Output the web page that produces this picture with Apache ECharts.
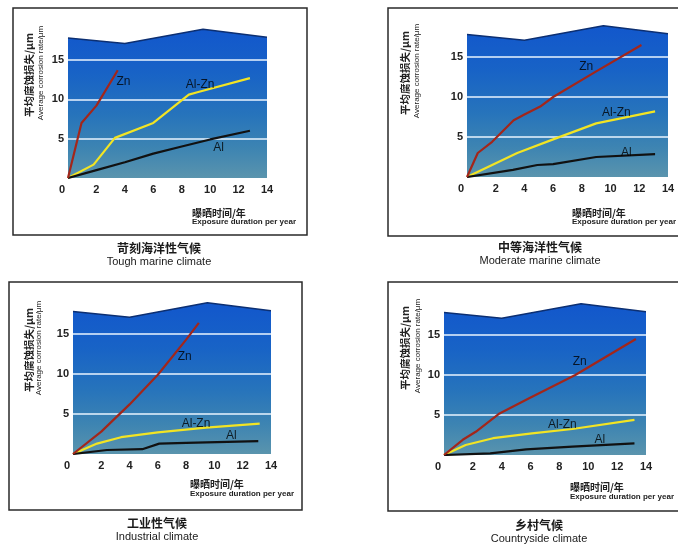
<!DOCTYPE html>
<html>
<head>
<meta charset="utf-8">
<script src="https://cdn.jsdelivr.net/npm/echarts@6/dist/echarts.min.js"></script>
<style>
html,body{margin:0;padding:0;background:#fff;}
#c{width:678px;height:548px;}
</style>
</head>
<body>
<div id="c"></div>
<script>
// ---- data ----
const xTicks = [0, 2, 4, 6, 8, 10, 12, 14];
const yTicks = [5, 10, 15];
const bgTop = [[0, 17.8], [4, 17.1], [9.5, 18.9], [14, 17.9]];

const titlesCN = ['苛刻海洋性气候', '中等海洋性气候', '工业性气候', '乡村气候'];
const titlesEN = ['Tough marine climate', 'Moderate marine climate', 'Industrial climate', 'Countryside climate'];
const yNameCN = '平均腐蚀损失/μm';
const yNameEN = 'Average corrosion rate/μm';
const xNameCN = '曝晒时间/年';
const xNameEN = 'Exposure duration per year';
const seriesNames = ['Zn', 'Al-Zn', 'Al'];

const toughZn   = [[0,0],[0.95,7.0],[2,9.2],[3.5,13.7]];
const toughAlZn = [[0,0],[1.8,1.7],[3.3,5.1],[6,7.0],[8.5,10.6],[9.1,10.9],[12.8,12.7]];
const toughAl   = [[0,0],[2,1.0],[4,2.0],[6,3.1],[8,4.0],[10,4.9],[12.8,6.0]];
const toughLbl  = [[3.9,12.3],[9.3,11.8],[10.6,3.8]];

const modZn   = [[0,0],[0.75,3.0],[1.75,4.4],[3.25,7.1],[4,7.8],[5.1,8.8],[6,10.0],[9,13.2],[12.15,16.5]];
const modAlZn = [[0,0],[3.5,3.0],[6,4.7],[9,6.7],[13.1,8.2]];
const modAl   = [[0,0],[3.2,0.9],[4.9,1.5],[6,1.6],[9,2.5],[13.1,2.85]];
const modLbl  = [[8.3,13.8],[10.4,8.0],[11.1,3.1]];

const indZn   = [[0,0],[2,2.8],[4,6.2],[6,9.9],[8,14.3],[8.9,16.4]];
const indAlZn = [[0,0],[1.7,1.3],[3.4,2.1],[6,2.7],[9.4,3.3],[13.2,3.8]];
const indAl   = [[0,0],[2.4,0.5],[4.9,0.6],[6.1,1.3],[8,1.4],[13.1,1.6]];
const indLbl  = [[7.9,12.2],[8.7,3.8],[11.2,2.25]];

const cntZn   = [[0,0],[1.3,1.9],[2.2,2.9],[3.85,5.2],[5.9,7.1],[8,9.0],[9.1,10.0],[13.3,14.5]];
const cntAlZn = [[0,0],[1.5,1.25],[3.4,2.1],[6.1,2.7],[8.9,3.25],[13.2,4.4]];
const cntAl   = [[0,0],[3.2,0.2],[5.7,0.7],[8.9,1.05],[13.2,1.45]];
const cntLbl  = [[9.4,11.7],[8.2,3.75],[10.8,1.9]];

const panelData = [
  [toughZn, toughAlZn, toughAl, toughLbl],
  [modZn, modAlZn, modAl, modLbl],
  [indZn, indAlZn, indAl, indLbl],
  [cntZn, cntAlZn, cntAl, cntLbl]
];

// ---- layout (px) ----
const layout = [
  {left: 68,  top: 28.5, width: 199, height: 149.5, box: [13, 8, 294, 227],  yn: [29, 41, 75],  xn: [192, 213, 222], t: [159, 248, 262]},
  {left: 467, top: 25,   width: 201, height: 152,   box: [388, 8, 320, 228], yn: [405, 417, 73], xn: [572, 213, 222], t: [540, 247, 261]},
  {left: 73,  top: 302,  width: 198, height: 152,   box: [9, 282, 293, 228], yn: [29, 39, 350], xn: [190, 484, 494], t: [157, 523, 537]},
  {left: 444, top: 303,  width: 202, height: 152,   box: [388, 282, 320, 229], yn: [405, 418, 348], xn: [570, 487, 497], t: [539, 525, 539]}
];

const latin = '"Liberation Sans", Arial, "Noto Sans CJK SC", sans-serif';
const cjk = '"Noto Sans CJK SC", "Liberation Sans", sans-serif';
const lineColors = ['#a3261a', '#f2e424', '#111111'];

const grids = [], xAxes = [], yAxes = [], series = [], graphics = [];

layout.forEach((L, i) => {
  grids.push({left: L.left, top: L.top, width: L.width, height: L.height, containLabel: false});
  xAxes.push({
    type: 'value', gridIndex: i, min: 0, max: 14, interval: 2,
    axisLine: {show: false}, axisTick: {show: false}, splitLine: {show: false},
    axisLabel: {
      margin: 6, fontSize: 11, fontWeight: 'bold', color: '#222', fontFamily: latin,
      formatter: v => v === 0 ? '{z|0}' : String(v),
      rich: {z: {fontSize: 11, fontWeight: 'bold', color: '#222', fontFamily: latin, padding: [0, 12, 0, 0]}}
    }
  });
  yAxes.push({
    type: 'value', gridIndex: i, min: 0, max: 19, interval: 5,
    axisLine: {show: false}, axisTick: {show: false}, splitLine: {show: false},
    axisLabel: {
      margin: 4, fontSize: 11, fontWeight: 'bold', color: '#222', fontFamily: latin,
      formatter: v => (yTicks.indexOf(v) >= 0 ? String(v) : '')
    }
  });
  // background panel
  series.push({
    type: 'line', xAxisIndex: i, yAxisIndex: i, data: bgTop, symbol: 'none', silent: true, z: 1,
    lineStyle: {color: '#0c2f72', width: 1.5},
    areaStyle: {
      opacity: 1,
      color: {type: 'linear', x: 0, y: 0, x2: 0, y2: 1, colorStops: [
        {offset: 0, color: '#1257cc'},
        {offset: 0.3, color: '#1863c6'},
        {offset: 0.58, color: '#2774bb'},
        {offset: 0.8, color: '#3d84b2'},
        {offset: 1, color: '#5a94ad'}
      ]}
    },
    markLine: {
      silent: true, symbol: 'none', label: {show: false},
      lineStyle: {color: '#eaf4ff', width: 1.5, type: 'solid'},
      data: yTicks.map(v => ({yAxis: v}))
    }
  });
  const d = panelData[i];
  for (let k = 0; k < 3; k++) {
    series.push({
      type: 'line', name: seriesNames[k], xAxisIndex: i, yAxisIndex: i, data: d[k],
      symbol: 'none', z: k === 0 ? 6 : 5,
      lineStyle: {color: lineColors[k], width: 2.2}
    });
  }
  series.push({
    type: 'scatter', xAxisIndex: i, yAxisIndex: i, symbolSize: 2, z: 8, silent: true,
    itemStyle: {color: 'rgba(0,0,0,0)'},
    data: d[3].map((p, k) => ({value: p, name: seriesNames[k]})),
    label: {show: true, position: 'inside', formatter: '{b}', fontSize: 12, color: '#000', fontFamily: latin}
  });

  // panel box
  graphics.push({type: 'rect', shape: {x: L.box[0], y: L.box[1], width: L.box[2], height: L.box[3]},
    style: {fill: 'none', stroke: '#2a2a2a', lineWidth: 1.5}, z: -1});
  // y axis name (rotated)
  graphics.push({type: 'text', x: L.yn[0], y: L.yn[2], rotation: Math.PI / 2,
    style: {text: yNameCN, x: 0, y: 0, font: 'bold 10.5px ' + cjk, fill: '#222',
      align: 'center', verticalAlign: 'middle', textAlign: 'center', textVerticalAlign: 'middle'}});
  graphics.push({type: 'text', x: L.yn[1], y: L.yn[2] - 2, rotation: Math.PI / 2,
    style: {text: yNameEN, x: 0, y: 0, font: '8px ' + latin, fill: '#222',
      align: 'center', verticalAlign: 'middle', textAlign: 'center', textVerticalAlign: 'middle'}});
  // x axis name
  graphics.push({type: 'text',
    style: {text: xNameCN, x: L.xn[0], y: L.xn[1], font: 'bold 10px ' + cjk, fill: '#222',
      align: 'left', verticalAlign: 'middle', textAlign: 'left', textVerticalAlign: 'middle'}});
  graphics.push({type: 'text',
    style: {text: xNameEN, x: L.xn[0], y: L.xn[2], font: 'bold 8px ' + latin, fill: '#222',
      align: 'left', verticalAlign: 'middle', textAlign: 'left', textVerticalAlign: 'middle'}});
  // titles
  graphics.push({type: 'text',
    style: {text: titlesCN[i], x: L.t[0], y: L.t[1], font: 'bold 12px ' + cjk, fill: '#1a1a1a',
      align: 'center', verticalAlign: 'middle', textAlign: 'center', textVerticalAlign: 'middle'}});
  graphics.push({type: 'text',
    style: {text: titlesEN[i], x: L.t[0], y: L.t[2], font: '11px ' + latin, fill: '#1a1a1a',
      align: 'center', verticalAlign: 'middle', textAlign: 'center', textVerticalAlign: 'middle'}});
});

const chart = echarts.init(document.getElementById('c'), null, {renderer: 'canvas'});
chart.setOption({
  backgroundColor: '#ffffff',
  animation: false,
  grid: grids,
  xAxis: xAxes,
  yAxis: yAxes,
  series: series,
  graphic: graphics
});
</script>
</body>
</html>
